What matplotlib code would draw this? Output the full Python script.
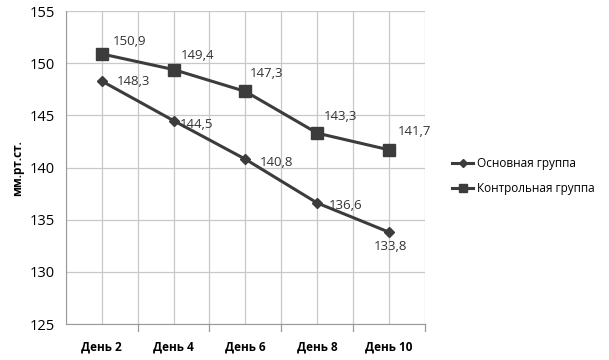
import matplotlib.pyplot as plt
from matplotlib.ticker import MultipleLocator

days = ['День 2', 'День 4', 'День 6', 'День 8', 'День 10']
main_group = [148.3, 144.5, 140.8, 136.6, 133.8]
control_group = [150.9, 149.4, 147.3, 143.3, 141.7]

plt.rcParams['font.family'] = ['Open Sans', 'DejaVu Sans']

fig = plt.figure(figsize=(6.09, 3.6), dpi=100)
ax = fig.add_axes([0.108, 0.1, 0.59, 0.869])

x = list(range(len(days)))
line_color = '#3c3c3c'
ax.plot(x, main_group, color=line_color, lw=2.2, marker='D', ms=5,
        label='Основная группа')
ax.plot(x, control_group, color=line_color, lw=2.2, marker='s', ms=8,
        label='Контрольная группа')

# value labels next to each point (offsets in pixels)
main_offsets = [(15, 0), (6, -4), (14, -3), (12, -2), (-15, -14)]
control_offsets = [(11, 12), (7, 14), (4, 18), (7, 17), (9, 18)]
for i, v in enumerate(main_group):
    ax.annotate(f'{v:.1f}'.replace('.', ','), (i, v), xytext=main_offsets[i],
                textcoords='offset pixels', ha='left', va='center',
                fontsize=9.5, color='#333333')
for i, v in enumerate(control_group):
    ax.annotate(f'{v:.1f}'.replace('.', ','), (i, v), xytext=control_offsets[i],
                textcoords='offset pixels', ha='left', va='center',
                fontsize=9.5, color='#333333')

ax.set_xlim(-0.5, len(days) - 0.5)
ax.set_ylim(125, 155)
ax.yaxis.set_major_locator(MultipleLocator(5))
ax.set_xticks(x)
ax.set_xticklabels(days, fontsize=8.5, fontweight='bold')
ax.tick_params(axis='x', length=0, pad=12)
ax.tick_params(axis='y', length=0, labelsize=10.5, pad=8)

# grid at category centres and boundaries
for xv in [i * 0.5 - 0.5 for i in range(2 * len(days) + 1)]:
    ax.axvline(xv, color='#c8c8c8', lw=0.9, zorder=0)
for yv in range(125, 156, 5):
    ax.axhline(yv, color='#c8c8c8', lw=0.9, zorder=0)
for xv in [i - 0.5 for i in range(1, len(days) + 1)]:
    ax.plot([xv, xv], [125, 124.3], color='#999999', lw=0.9, clip_on=False)

for s in ['top', 'right']:
    ax.spines[s].set_visible(False)
ax.spines['left'].set_color('#999999')
ax.spines['bottom'].set_color('#999999')

ax.set_ylabel('мм.рт.ст.', fontsize=8.5, fontweight='bold', labelpad=4)

fig.legend(loc='center left', bbox_to_anchor=(0.725, 0.51), frameon=False,
           fontsize=8.5, handlelength=1.8, labelspacing=1.0, handletextpad=0.3,
           markerscale=0.8)

fig.savefig('out.png', dpi=100)
